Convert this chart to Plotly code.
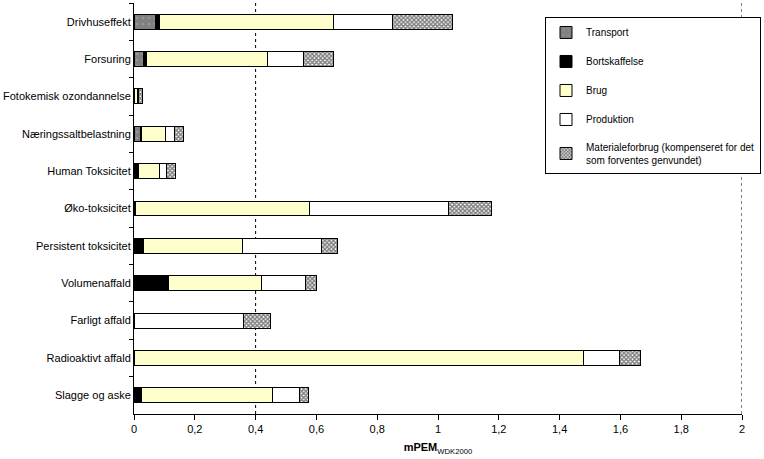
import plotly.graph_objects as go

# Kategorier (fra toppen og ned)
kategorier = ["Drivhuseffekt", "Forsuring", "Fotokemisk ozondannelse", "Næringssaltbelastning",
              "Human Toksicitet", "Øko-toksicitet", "Persistent toksicitet", "Volumenaffald",
              "Farligt affald", "Radioaktivt affald", "Slagge og aske"]

transport = [0.072, 0.031, 0.001, 0.021, None, 0.002, None, None, None, None, None]
bortskaffelse = [0.011, 0.011, 0.002, 0.005, 0.015, 0.003, 0.030, 0.115, None, 0.001, 0.026]
brug = [0.573, 0.398, 0.010, 0.078, 0.070, 0.571, 0.326, 0.304, None, 1.479, 0.429]
produktion = [0.194, 0.116, 0.002, 0.029, 0.022, 0.460, 0.261, 0.145, 0.361, 0.116, 0.089]
materiale = [0.198, 0.100, 0.013, 0.030, 0.030, 0.141, 0.053, 0.036, 0.089, 0.071, 0.031]

navne = ["Transport", "Bortskaffelse", "Brug", "Produktion",
         "Materialeforbrug (kompenseret for det<br>som forventes genvundet)"]

fig = go.Figure()

def tilfoej(vaerdier, navn, farve, moenster=None):
    marker = dict(color=farve, line=dict(color="black", width=1))
    if moenster is not None:
        marker["pattern"] = moenster
    fig.add_trace(go.Bar(y=kategorier, x=vaerdier, name=navn, orientation="h",
                         marker=marker, legendgroup=navn))

tilfoej(transport, navne[0], "#808080",
        dict(shape=".", fgcolor="#b0b0b0", bgcolor="#808080", size=6, solidity=0.15))
tilfoej(bortskaffelse, navne[1], "black")
tilfoej(brug, navne[2], "#FFFFCC")
tilfoej(produktion, navne[3], "white")
tilfoej(materiale, navne[4], "white",
        dict(shape="x", fgcolor="black", bgcolor="white", size=3, solidity=0.7))

# stiplede lodrette linjer
for xv in [0.4, 2.0]:
    fig.add_shape(type="line", x0=xv, x1=xv, y0=0, y1=1, xref="x", yref="paper",
                  line=dict(color="black", width=1, dash="dot"), layer="below")

fig.update_layout(
    width=764, height=459,
    margin=dict(l=134, r=22, t=3, b=45, autoexpand=False),
    paper_bgcolor="white", plot_bgcolor="white",
    font=dict(family="Liberation Sans, Arial, sans-serif", size=11, color="black"),
    separators=", ",
    barmode="stack", bargap=0.6,
    showlegend=True,
    legend=dict(x=0.676, y=0.966, xanchor="left", yanchor="top",
                bgcolor="white", bordercolor="black", borderwidth=1,
                traceorder="grouped", tracegroupgap=10, itemwidth=30,
                font=dict(size=10)),
    xaxis=dict(range=[0, 2], dtick=0.2, showgrid=False, zeroline=False,
               showline=True, linecolor="black", linewidth=1,
               ticks="outside", ticklen=5, tickcolor="black",
               title=dict(text="<b>mPEM</b><sub>WDK2000</sub>", font=dict(size=11), standoff=9)),
    yaxis=dict(categoryorder="array", categoryarray=kategorier, autorange="reversed",
               showgrid=False, showline=True, linecolor="black", linewidth=1,
               ticks="outside", ticklen=4, tickcolor="black", tickson="boundaries"),
)

# siden skal ikke have kant om figuren
fig.write_html("out.html", config={"displayModeBar": False},
               post_script="document.body.style.margin='0';")
